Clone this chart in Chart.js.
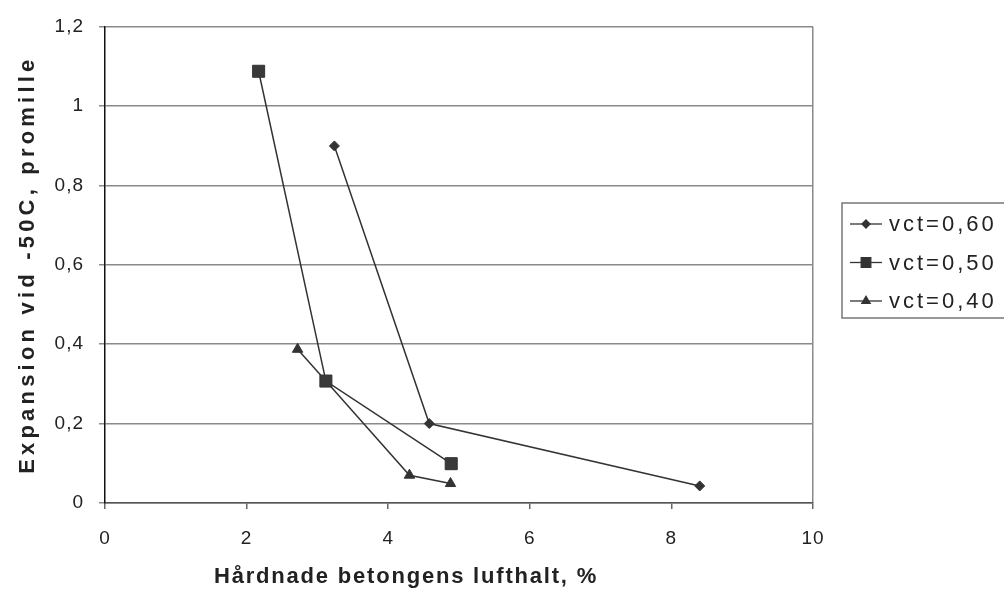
<!DOCTYPE html>
<html>
<head>
<meta charset="utf-8">
<script src="https://cdn.jsdelivr.net/npm/chart.js@4"></script>
<style>
  html, body { margin: 0; padding: 0; background: #fff; }
</style>
</head>
<body>
<canvas id="myChart" width="1004" height="594"></canvas>
<script>
// data
var seriesNames = ['vct=0,60', 'vct=0,50', 'vct=0,40'];
var airVct60 = [3.24, 4.58, 8.40];
var expVct60 = [0.899, 0.200, 0.043];
var airVct50 = [2.17, 3.12, 4.89];
var expVct50 = [1.087, 0.307, 0.099];
var airVct40 = [2.72, 3.12, 4.30, 4.88];
var expVct40 = [0.387, 0.307, 0.070, 0.049];
var xTicks = [0, 2, 4, 6, 8, 10];
var yTicks = [0, 0.2, 0.4, 0.6, 0.8, 1, 1.2];
var xTitle = 'Hårdnade betongens lufthalt, %';
var yTitle = 'Expansion vid -50C, promille';

function toPoints(xs, ys) {
  var pts = [];
  for (let i = 0; i < xs.length; i++) {
    pts.push({x: xs[i], y: ys[i]});
  }
  return pts;
}
function comma(v) {
  return (Math.round(v * 10) / 10).toString().replace('.', ',');
}

var FONT = "'Liberation Sans', Arial, sans-serif";
var INK = '#333';

// wide letter spacing like the scanned original
var spacing = {
  id: 'spacing',
  beforeDraw: function(chart) {
    chart.ctx.letterSpacing = '1px';
  }
};

// axis titles, legend box with line + marker symbols
var extras = {
  id: 'extras',
  afterDraw: function(chart) {
    var ctx = chart.ctx;
    var area = chart.chartArea;
    var ds = chart.data.datasets;
    ctx.save();
    ctx.fillStyle = '#222';
    ctx.font = 'bold 22px ' + FONT;
    ctx.textAlign = 'center';
    ctx.textBaseline = 'middle';
    ctx.letterSpacing = '1.8px';
    ctx.fillText(xTitle, 406, 577);
    ctx.save();
    ctx.translate(28, (area.top + area.bottom) / 2);
    ctx.rotate(-Math.PI / 2);
    ctx.letterSpacing = '4.2px';
    ctx.fillText(yTitle, 0, 0);
    ctx.restore();

    ctx.fillStyle = '#fff';
    ctx.fillRect(842, 203, 170, 115);
    ctx.strokeStyle = '#777';
    ctx.lineWidth = 1.5;
    ctx.strokeRect(842, 203, 170, 115);
    ctx.font = '22px ' + FONT;
    ctx.letterSpacing = '3px';
    ctx.textAlign = 'left';
    for (let i = 0; i < ds.length; i++) {
      var y = 224 + i * 38.5;
      ctx.strokeStyle = INK;
      ctx.lineWidth = 1.3;
      ctx.beginPath();
      ctx.moveTo(850, y);
      ctx.lineTo(882, y);
      ctx.stroke();
      ctx.fillStyle = INK;
      Chart.helpers.drawPoint(ctx, {
        pointStyle: ds[i].pointStyle,
        radius: ds[i].pointRadius * 0.8,
        rotation: 0,
        borderWidth: 1
      }, 866, y);
      ctx.fillStyle = '#222';
      ctx.fillText(ds[i].label, 889, y + 1);
    }
    ctx.restore();
  }
};

var ctx = document.getElementById('myChart');
var myChart = new Chart(ctx, {
  type: 'scatter',
  data: {
    datasets: [{
      label: seriesNames[0],
      data: toPoints(airVct60, expVct60),
      showLine: true,
      borderColor: INK,
      backgroundColor: INK,
      borderWidth: 1.5,
      pointStyle: 'rectRot',
      pointRadius: 5,
      pointBorderWidth: 1
    }, {
      label: seriesNames[1],
      data: toPoints(airVct50, expVct50),
      showLine: true,
      borderColor: INK,
      backgroundColor: '#3a3a3a',
      borderWidth: 1.5,
      pointStyle: 'rect',
      pointRadius: 8.5,
      pointBorderWidth: 1
    }, {
      label: seriesNames[2],
      data: toPoints(airVct40, expVct40),
      showLine: true,
      borderColor: INK,
      backgroundColor: INK,
      borderWidth: 1.5,
      pointStyle: 'triangle',
      pointRadius: 6,
      pointBorderWidth: 1
    }]
  },
  options: {
    responsive: false,
    animation: false,
    layout: { padding: { left: 0, right: 191, top: 23, bottom: 0 } },
    plugins: {
      legend: { display: false },
      tooltip: { enabled: false }
    },
    scales: {
      x: {
        type: 'linear',
        min: 0,
        max: 10,
        afterBuildTicks: function(scale) {
          scale.ticks = xTicks.map(function(v) { return {value: v}; });
        },
        ticks: {
          color: '#222',
          font: { family: FONT, size: 19 },
          padding: 18,
          callback: function(v) { return comma(v); }
        },
        grid: {
          color: function(c) { return c.tick && c.tick.value === 10 ? '#8a8a8a' : 'rgba(0,0,0,0)'; },
          tickColor: '#666',
          tickLength: 6,
          lineWidth: 1.5
        },
        border: { color: '#555', width: 1.5 },
        afterFit: function(scale) { scale.height = 91; }
      },
      y: {
        type: 'linear',
        min: 0,
        max: 1.2,
        afterBuildTicks: function(scale) {
          scale.ticks = yTicks.map(function(v) { return {value: v}; });
        },
        ticks: {
          color: '#222',
          font: { family: FONT, size: 19 },
          padding: 15,
          callback: function(v) { return comma(v); }
        },
        grid: {
          color: '#8a8a8a',
          tickColor: '#8a8a8a',
          tickLength: 6,
          lineWidth: 1.5
        },
        border: { color: '#111', width: 1.5 },
        afterFit: function(scale) { scale.width = 105; }
      }
    }
  },
  plugins: [spacing, extras]
});
</script>
</body>
</html>
